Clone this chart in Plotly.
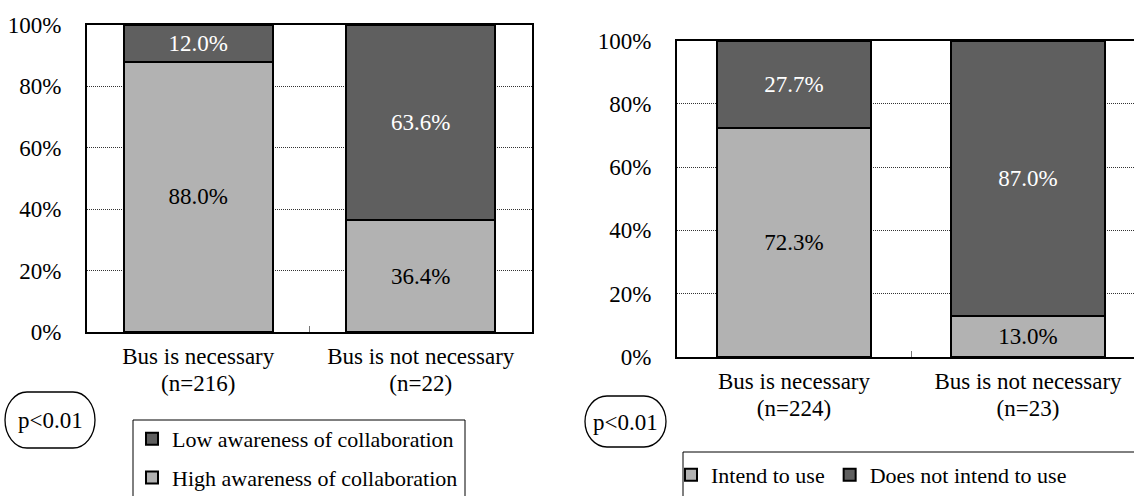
import plotly.graph_objects as go

W, H = 1134, 496
FONT = "Times New Roman, Liberation Serif, serif"
DARK = "#5f5f5f"
LIGHT = "#b2b2b2"

# ---- data ----
left_categories = ["Bus is necessary", "Bus is not necessary"]
left_n = ["(n=216)", "(n=22)"]
left_high = [88.0, 36.4]
left_low = [12.0, 63.6]
left_names = ["High awareness of collaboration", "Low awareness of collaboration"]

right_categories = ["Bus is necessary", "Bus is not necessary"]
right_n = ["(n=224)", "(n=23)"]
right_intend = [72.3, 13.0]
right_not = [27.7, 87.0]
right_names = ["Intend to use", "Does not intend to use"]

y_ticks = [0, 20, 40, 60, 80, 100]
y_tick_labels = ["0%", "20%", "40%", "60%", "80%", "100%"]
p_label = "p<0.01"


def px(x):
    return x / W


def py(y):
    return 1 - y / H


def bar(x, y, name, color, txtcolor, xa, ya, leg, width, group, rank):
    return go.Bar(
        x=x, y=y, name=name, xaxis=xa, yaxis=ya, legend=leg, legendgroup=group,
        legendrank=rank, width=width,
        marker=dict(color=color, line=dict(color="black", width=2)),
        text=[f"{v:.1f}%" for v in y], textposition="inside",
        insidetextanchor="middle", textangle=0, constraintext="none",
        textfont=dict(family=FONT, size=23, color=txtcolor),
        hoverinfo="skip",
    )


fig = go.Figure()
fig.add_trace(bar(left_categories, left_high, left_names[0], LIGHT, "black", "x", "y", "legend", 0.67, "lh", 2))
fig.add_trace(bar(left_categories, left_low, left_names[1], DARK, "white", "x", "y", "legend", 0.67, "ll", 1))
fig.add_trace(bar(right_categories, right_intend, right_names[0], LIGHT, "black", "x2", "y2", "legend2", 0.662, "ri", 1))
fig.add_trace(bar(right_categories, right_not, right_names[1], DARK, "white", "x2", "y2", "legend2", 0.662, "rn", 2))

# invisible anchors so that the sample-size axes (second label line) are drawn
for xa, ya, labels in (("x3", "y", left_n), ("x4", "y2", right_n)):
    fig.add_trace(go.Scatter(
        x=list(range(len(labels))), y=[0] * len(labels), xaxis=xa, yaxis=ya,
        mode="markers", marker=dict(opacity=0, size=1), showlegend=False,
        hoverinfo="skip",
    ))

tickfont = dict(family=FONT, size=23, color="black")


def xaxis(domain, rng, anchor):
    return dict(
        domain=domain, anchor=anchor, type="category", range=rng,
        showline=True, linecolor="black", linewidth=2, mirror=True,
        ticks="inside", tickson="boundaries", ticklen=6, tickwidth=1, tickcolor="#777",
        tickfont=tickfont, showgrid=False, zeroline=False, ticklabelstandoff=2,
        fixedrange=True,
    )


def naxis(over, rng, anchor, labels):
    # second line of the category labels (sample sizes)
    return dict(
        overlaying=over, anchor=anchor, side="bottom", type="linear", range=rng,
        tickvals=list(range(len(labels))), ticktext=labels,
        showline=False, ticks="", showgrid=False, zeroline=False,
        tickfont=tickfont, ticklabelstandoff=35, fixedrange=True,
    )


def yaxis(domain, anchor, mirror):
    return dict(
        domain=domain, anchor=anchor, range=[0, 100],
        tickvals=y_ticks, ticktext=y_tick_labels,
        showline=True, linecolor="black", linewidth=2, mirror=mirror,
        ticks="", tickfont=tickfont, ticklabelstandoff=19,
        showgrid=True, gridcolor="#333", gridwidth=1, griddash="1px,1px",
        zeroline=False, fixedrange=True,
    )


right_plot_left = 677
right_cat_w = 234
left_range = [-0.5, 1.5]
right_range = [-0.5, -0.5 + (W - right_plot_left) / right_cat_w]

fig.update_layout(
    width=W, height=H, autosize=False,
    margin=dict(l=0, r=0, t=0, b=0, autoexpand=False),
    paper_bgcolor="white", plot_bgcolor="white",
    barmode="stack", font=dict(family=FONT, color="black"),
    xaxis=xaxis([px(87), px(532)], left_range, "y"),
    yaxis=yaxis([py(332), py(25)], "x", True),
    xaxis2=xaxis([px(right_plot_left), 1.0], right_range, "y2"),
    yaxis2=yaxis([py(357), py(40.5)], "x2", False),
    xaxis3=naxis("x", left_range, "y", left_n),
    xaxis4=naxis("x2", right_range, "y2", right_n),
    legend=dict(
        x=px(132), y=py(418), xanchor="left", yanchor="top",
        orientation="v", traceorder="grouped", tracegroupgap=7,
        font=dict(family=FONT, size=22, color="black"),
        bgcolor="rgba(0,0,0,0)", borderwidth=0,
    ),
    legend2=dict(
        x=px(671), y=py(454), xanchor="left", yanchor="top",
        orientation="h", traceorder="normal",
        font=dict(family=FONT, size=22, color="black"),
        bgcolor="rgba(0,0,0,0)", borderwidth=0,
    ),
    showlegend=True,
)


def stadium(x0, y0, x1, y1, rx):
    ry = (y1 - y0) / 2
    yc = (y0 + y1) / 2
    k = 0.5523

    def p(x, y):
        return f"{px(x):.5f},{py(y):.5f}"

    return (
        f"M{p(x0 + rx, y0)} L{p(x1 - rx, y0)} "
        f"C{p(x1 - rx + k * rx, y0)} {p(x1, yc - k * ry)} {p(x1, yc)} "
        f"C{p(x1, yc + k * ry)} {p(x1 - rx + k * rx, y1)} {p(x1 - rx, y1)} "
        f"L{p(x0 + rx, y1)} "
        f"C{p(x0 + rx - k * rx, y1)} {p(x0, yc + k * ry)} {p(x0, yc)} "
        f"C{p(x0, yc - k * ry)} {p(x0 + rx - k * rx, y0)} {p(x0 + rx, y0)} Z"
    )


shapes = [
    # legend boxes
    dict(type="rect", xref="paper", yref="paper", x0=px(133), x1=px(465), y0=py(420), y1=py(520),
         line=dict(color="black", width=1), fillcolor="rgba(0,0,0,0)", layer="below"),
    dict(type="rect", xref="paper", yref="paper", x0=px(683), x1=px(1150), y0=py(452), y1=py(520),
         line=dict(color="black", width=1), fillcolor="rgba(0,0,0,0)", layer="below"),
    # p-value ovals
    dict(type="path", xref="paper", yref="paper", path=stadium(5, 392, 95, 448, 22),
         line=dict(color="black", width=1.3)),
    dict(type="path", xref="paper", yref="paper", path=stadium(585, 396, 666, 447, 22),
         line=dict(color="black", width=1.3)),
]
fig.update_layout(shapes=shapes)

fig.add_annotation(x=px(50), y=py(420), xref="paper", yref="paper", text=p_label,
                   xanchor="center", yanchor="middle",
                   showarrow=False, font=dict(family=FONT, size=23, color="black"))
fig.add_annotation(x=px(625.5), y=py(422), xref="paper", yref="paper", text=p_label,
                   xanchor="center", yanchor="middle",
                   showarrow=False, font=dict(family=FONT, size=23, color="black"))

fig.write_html("out.html", config={"displayModeBar": False},
               post_script="document.body.style.margin='0';document.body.style.overflow='hidden';")
